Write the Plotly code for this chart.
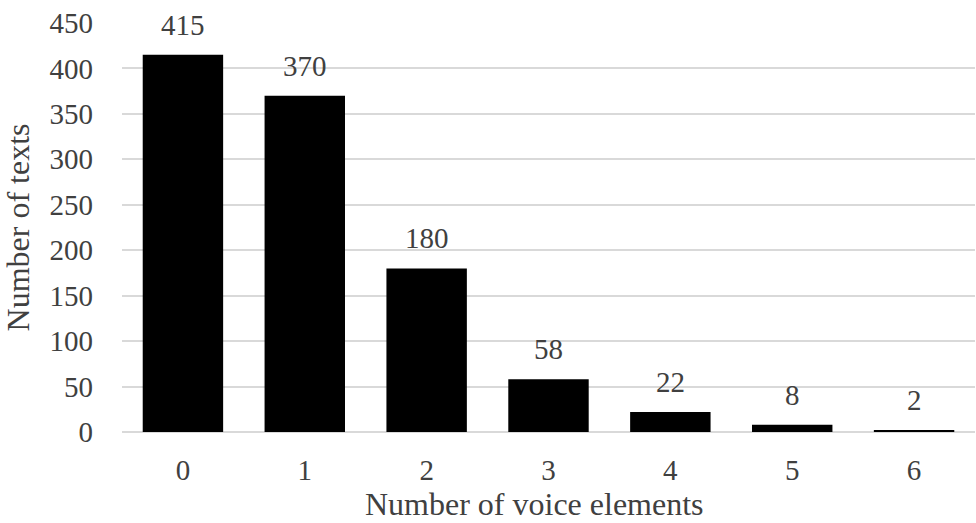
import plotly.graph_objects as go

# Distribution of texts by number of voice elements
categories = ["0", "1", "2", "3", "4", "5", "6"]
counts = [415, 370, 180, 58, 22, 8, 2]
y_ticks = [0, 50, 100, 150, 200, 250, 300, 350, 400, 450]
x_title = "Number of voice elements"
y_title = "Number of texts"

FONT = "Liberation Serif, Times New Roman, serif"
TEXT_COLOR = "#404040"
GRID_COLOR = "#d9d9d9"
TICK_SIZE = 29
TITLE_SIZE = 32

fig = go.Figure(
    go.Bar(
        x=categories,
        y=counts,
        marker=dict(color="#000000", line=dict(width=0)),
        hoverinfo="x+y",
    )
)

# value labels above each bar
for cat, val in zip(categories, counts):
    fig.add_annotation(
        x=cat, y=val, text=str(val), showarrow=False,
        yanchor="middle", yshift=30,
        font=dict(family=FONT, size=TICK_SIZE, color=TEXT_COLOR),
    )

# horizontal axis title, set slightly left of the plot centre
fig.add_annotation(
    xref="paper", yref="paper", x=0.4836, y=0,
    xanchor="center", yanchor="middle", yshift=-72, borderpad=0,
    text=x_title, showarrow=False,
    font=dict(family=FONT, size=TITLE_SIZE, color=TEXT_COLOR),
)

fig.update_layout(
    width=976, height=523,
    margin=dict(l=122, r=1, t=23, b=91),
    paper_bgcolor="white", plot_bgcolor="white",
    bargap=0.34,
    showlegend=False,
    font=dict(family=FONT, size=TICK_SIZE, color=TEXT_COLOR),
    xaxis=dict(
        type="category",
        showgrid=False, showline=False, zeroline=False,
        ticks="", ticklabelstandoff=18,
        tickfont=dict(family=FONT, size=TICK_SIZE, color=TEXT_COLOR),
    ),
    yaxis=dict(
        range=[0, 450],
        tickvals=y_ticks,
        showgrid=True, gridcolor=GRID_COLOR, gridwidth=1.5,
        zeroline=True, zerolinecolor=GRID_COLOR, zerolinewidth=1.5,
        showline=False, ticks="", ticklabelstandoff=28,
        tickfont=dict(family=FONT, size=TICK_SIZE, color=TEXT_COLOR),
        title=dict(text=y_title, standoff=12,
                   font=dict(family=FONT, size=TITLE_SIZE, color=TEXT_COLOR)),
    ),
)

fig.write_html("out.html")
